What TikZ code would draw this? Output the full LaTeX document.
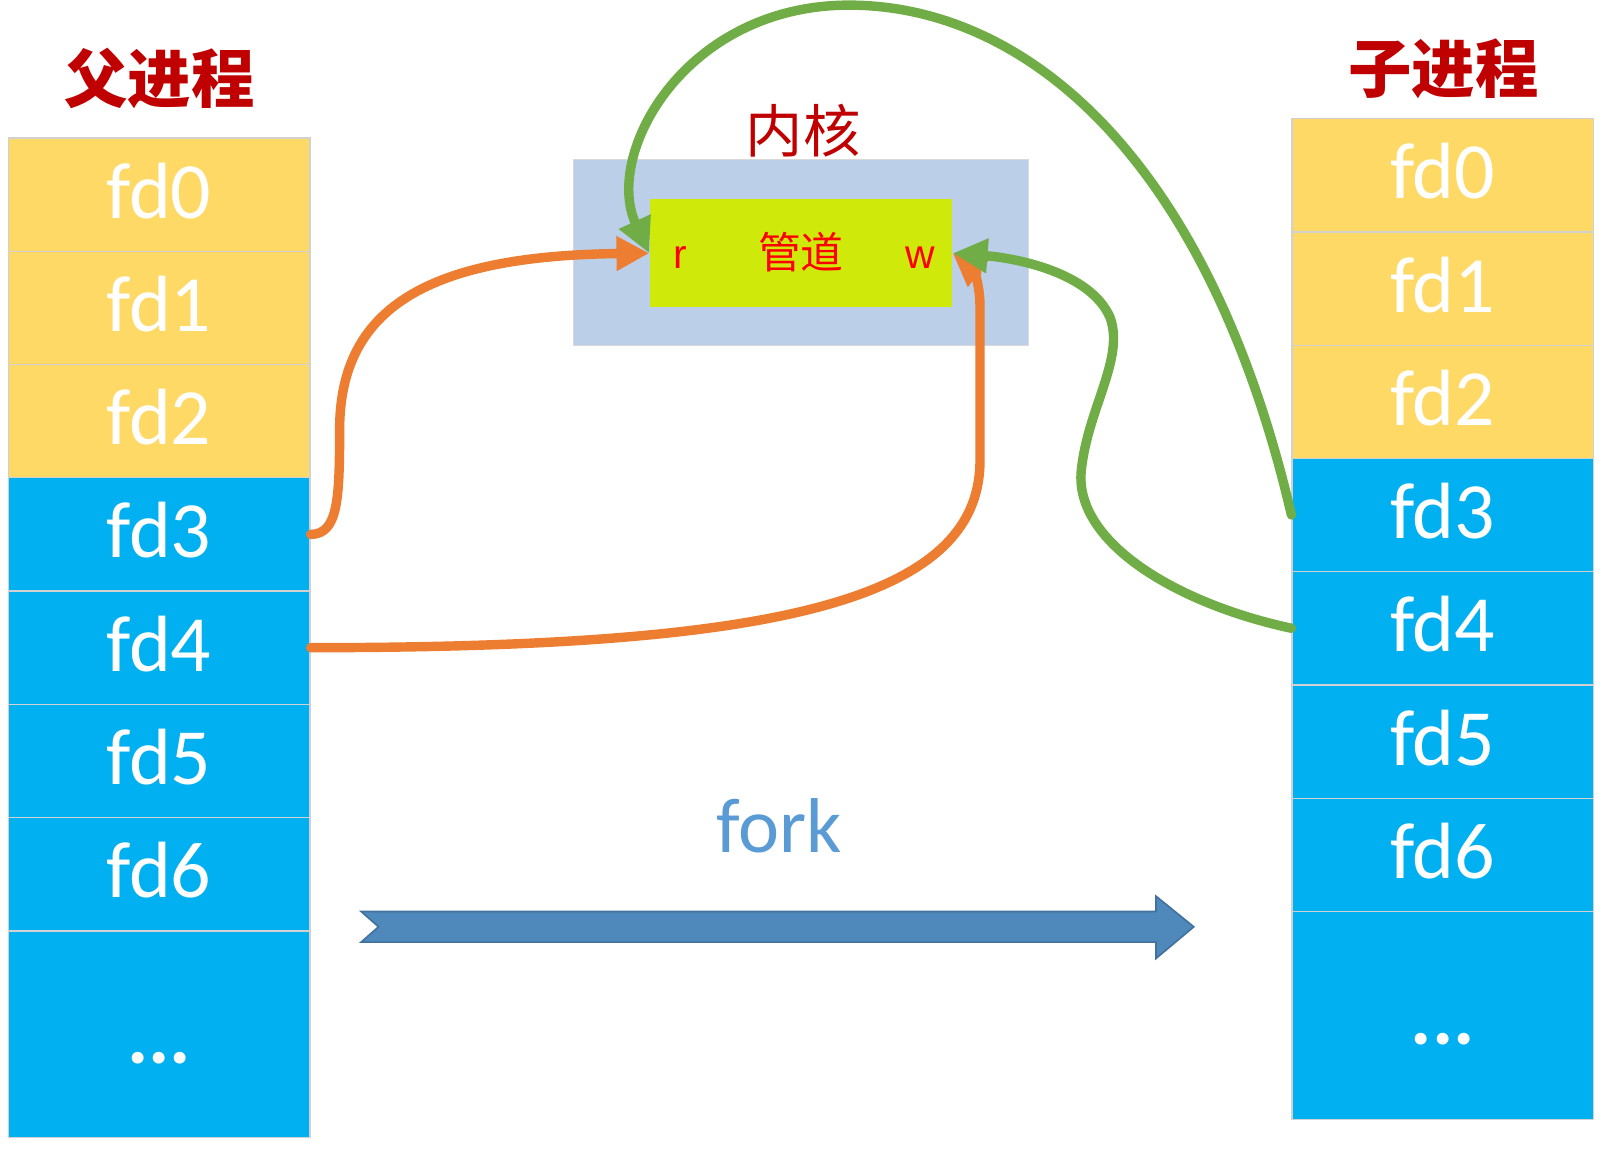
\documentclass[tikz,border=0pt]{standalone}
\usepackage{fontspec}
\setmainfont{Carlito}
\newfontfamily\cjk{Noto Sans CJK SC}
\newfontfamily\arialf{Liberation Sans}
\usetikzlibrary{arrows.meta}
\definecolor{fdyellow}{HTML}{FFD966}
\definecolor{fdblue}{HTML}{00B0F0}
\definecolor{kernelblue}{HTML}{BCCFE8}
\definecolor{pipelime}{HTML}{CFEA0A}
\definecolor{titlered}{HTML}{C00000}
\definecolor{pipered}{HTML}{FF0000}
\definecolor{orangeline}{HTML}{ED7D31}
\definecolor{greenline}{HTML}{70AD47}
\definecolor{forkfill}{HTML}{4F88BB}
\definecolor{forkdraw}{HTML}{41719C}
\definecolor{forktext}{HTML}{5B9BD5}
\begin{document}
\begin{tikzpicture}[x=0.5pt,y=-0.5pt,
  cell/.style={draw=black!18, line width=0.6pt, minimum width=147.5pt,
    minimum height=55.35pt, inner sep=0pt, text=white,
    font=\fontsize{39}{39}\selectfont, text height=23pt, text depth=0pt},
  lastcell/.style={cell, minimum height=101pt, text height=29pt, font=\bfseries\fontsize{39}{39}\selectfont},
  yel/.style={cell, fill=fdyellow},
  blu/.style={cell, fill=fdblue},
  title/.style={text=titlered, font=\cjk\bfseries\fontsize{31}{31}\selectfont, inner sep=0pt},
  orangearrow/.style={draw=orangeline, line width=4.6pt, line cap=round,
    -{Triangle[length=16pt,width=16pt]}},
  greenarrow/.style={draw=greenline, line width=4.6pt, line cap=round,
    -{Triangle[length=17pt,width=16pt]}},
  pipelabel/.style={text=pipered, font=\arialf\fontsize{20}{20}\selectfont, inner sep=0pt}
]
\useasboundingbox (0,0) rectangle (1568,1126);

% titles
\node[title] (TP) at (156,77) {父进程};
\node[title] (TC) at (1411,67) {子进程};

% parent column
\node[yel] (L0) at (155.5,190.35) {fd0};
\node[yel] (L1) at (155.5,301.05) {fd1};
\node[yel] (L2) at (155.5,411.75) {fd2};
\node[blu] (L3) at (155.5,522.45) {fd3};
\node[blu] (L4) at (155.5,633.15) {fd4};
\node[blu] (L5) at (155.5,743.85) {fd5};
\node[blu] (L6) at (155.5,854.55) {fd6};
\node[lastcell, fill=fdblue] (L7) at (155.5,1011) {...};

% child column
\node[yel] (R0) at (1410.5,171.35) {fd0};
\node[yel] (R1) at (1410.5,282.05) {fd1};
\node[yel] (R2) at (1410.5,392.75) {fd2};
\node[blu] (R3) at (1410.5,503.45) {fd3};
\node[blu] (R4) at (1410.5,614.15) {fd4};
\node[blu] (R5) at (1410.5,724.85) {fd5};
\node[blu] (R6) at (1410.5,835.55) {fd6};
\node[lastcell, fill=fdblue, minimum height=101.5pt] (R7) at (1410.5,992.5) {...};

% kernel
\node[fill=kernelblue, draw=black!15, line width=0.5pt, minimum width=222pt,
  minimum height=91pt, inner sep=0pt] (K) at (783,247) {};
\node[text=titlered, font=\cjk\fontsize{28}{28}\selectfont, inner sep=0pt] (KL) at (785,128) {内核};
\node[fill=pipelime, minimum width=148pt, minimum height=52.5pt, inner sep=0pt] (P) at (783,247.5) {};
\node[pipelabel] (PR) at (665,252) {r};
\node[pipelabel] (PW) at (900,252) {w};
\node[text=pipered, font=\cjk\fontsize{21}{21}\selectfont, inner sep=0pt] (PN) at (783,246) {管道};

% fork
\node[text=forktext, font=\fontsize{38}{38}\selectfont, inner sep=0pt, anchor=base] (F) at (762,833) {fork};
\draw[fill=forkfill, draw=forkdraw, line width=0.8pt, line join=miter]
  (353,891) -- (1130,891) -- (1130,876) -- (1167,906) -- (1130,937) -- (1130,921)
  -- (353,921) -- (370,906) -- cycle;

% connectors
\draw[orangearrow] (L3.east) .. controls (330,522) and (332,490) .. (332,420)
  .. controls (332,300) and (420,250) .. (P.west);
\draw[orangearrow] (L4.east) .. controls (750,633) and (958,590) .. (958,450)
  -- (958,300) .. controls (958,275) and (950,262) .. (P.east);
\draw[greenarrow] (R3.west) .. controls (1180,150) and (1000,5) .. (830,5)
  .. controls (670,5) and (590,150) .. (P.west);
\draw[greenarrow] (R4.west) .. controls (1150,590) and (1050,530) .. (1057,460)
  .. controls (1063,400) and (1100,350) .. (1085,310)
  .. controls (1065,265) and (990,252) .. (P.east);
\end{tikzpicture}
\end{document}
